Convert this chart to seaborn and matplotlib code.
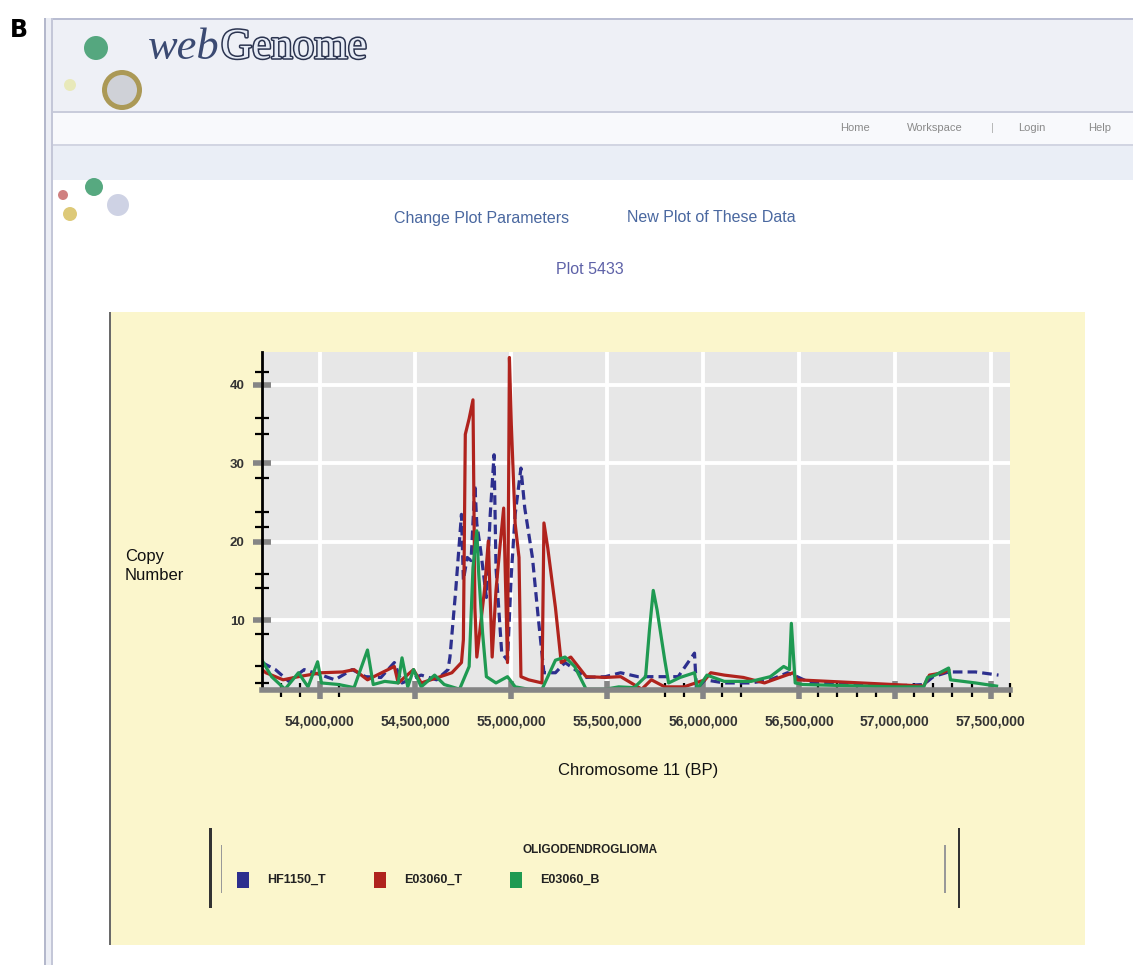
import numpy as np
import pandas as pd
import seaborn as sns
import matplotlib.pyplot as plt
from matplotlib.patches import Rectangle, Ellipse
from matplotlib.ticker import FuncFormatter
import matplotlib.patheffects as pe

# positions in Mb, copy numbers
hf1150_t_pos = [53.70, 53.77, 53.84, 53.92, 54.01, 54.08, 54.17, 54.24, 54.32, 54.39, 54.43,
                54.53, 54.61, 54.67, 54.68, 54.71, 54.74, 54.75, 54.77, 54.79, 54.81, 54.82,
                54.84, 54.87, 54.89, 54.91, 54.92, 54.95, 54.98, 55.00, 55.02, 55.05, 55.07,
                55.11, 55.14, 55.17, 55.23, 55.28, 55.39, 55.49, 55.57, 55.66, 55.87, 55.955,
                55.965, 56.01, 56.11, 56.25, 56.35, 56.44, 56.49, 56.56, 56.99, 57.15, 57.20,
                57.28, 57.42, 57.54]
hf1150_t_cn = [4.6, 3.7, 2.2, 3.7, 3.0, 2.4, 3.7, 2.8, 2.7, 4.6, 2.0,
               3.0, 2.4, 3.7, 5.3, 13.8, 23.5, 15.1, 18.0, 17.6, 27.3, 22.3,
               18.9, 12.9, 23.5, 31.1, 16.7, 5.8, 4.9, 15.9, 23.5, 29.4, 24.3,
               18.0, 10.4, 3.3, 3.3, 4.6, 2.7, 2.8, 3.3, 2.8, 2.8, 5.8,
               1.2, 2.4, 2.0, 2.0, 2.4, 3.3, 2.8, 2.0, 1.6, 1.8, 2.8,
               3.4, 3.4, 3.0]

e03060_t_pos = [53.70, 53.72, 53.81, 53.89, 54.01, 54.12, 54.18, 54.25, 54.39, 54.41, 54.49,
                54.53, 54.63, 54.69, 54.74, 54.75, 54.76, 54.78, 54.80, 54.81, 54.82, 54.86,
                54.88, 54.90, 54.92, 54.94, 54.96, 54.98, 54.99, 55.00, 55.02, 55.04, 55.05,
                55.09, 55.16, 55.17, 55.19, 55.23, 55.26, 55.31, 55.39, 55.49, 55.57, 55.68,
                55.73, 55.80, 55.90, 56.01, 56.04, 56.11, 56.21, 56.32, 56.40, 56.47, 56.49,
                56.99, 57.15, 57.18, 57.25, 57.28]
e03060_t_cn = [3.7, 3.3, 2.4, 2.8, 3.3, 3.4, 3.7, 2.4, 4.1, 2.0, 3.7,
               2.0, 2.8, 3.3, 4.6, 7.5, 33.7, 35.7, 38.1, 11.6, 5.3, 13.8,
               20.1, 5.3, 13.8, 19.2, 24.3, 4.6, 43.5, 34.9, 22.3, 18.0, 2.8,
               2.4, 2.0, 22.4, 19.2, 11.6, 4.6, 5.3, 2.8, 2.7, 2.8, 1.2,
               2.4, 1.5, 1.5, 2.4, 3.3, 3.0, 2.7, 2.0, 2.7, 3.3, 2.4,
               1.8, 1.6, 3.0, 3.3, 3.7]

e03060_b_pos = [53.70, 53.75, 53.82, 53.89, 53.94, 53.99, 54.01, 54.10, 54.18, 54.25, 54.28,
                54.34, 54.41, 54.43, 54.46, 54.49, 54.53, 54.60, 54.65, 54.73, 54.78, 54.80,
                54.82, 54.83, 54.85, 54.87, 54.92, 54.98, 55.02, 55.09, 55.16, 55.23, 55.28,
                55.33, 55.39, 55.49, 55.56, 55.64, 55.70, 55.72, 55.74, 55.76, 55.80, 55.82,
                55.88, 55.955, 55.97, 56.02, 56.11, 56.25, 56.35, 56.42, 56.45, 56.46, 56.48,
                56.52, 56.99, 57.15, 57.17, 57.21, 57.28, 57.29, 57.42, 57.53]
e03060_b_cn = [4.9, 2.8, 1.2, 3.3, 1.5, 4.7, 2.0, 1.8, 1.4, 6.2, 1.8,
               2.2, 2.0, 5.2, 1.5, 3.7, 1.5, 3.0, 1.8, 1.2, 4.1, 16.7,
               21.4, 15.9, 8.4, 2.8, 2.0, 2.8, 1.5, 1.2, 1.2, 4.9, 5.3,
               4.1, 1.2, 1.2, 1.5, 1.4, 2.8, 8.7, 13.8, 11.3, 4.9, 2.0,
               2.7, 3.3, 1.2, 3.0, 2.2, 2.2, 2.8, 4.1, 3.7, 9.6, 2.0,
               1.8, 1.5, 1.5, 2.7, 3.0, 3.9, 2.4, 2.0, 1.6]

series_names = ["HF1150_T", "E03060_T", "E03060_B"]
palette = {"HF1150_T": "#2d2f8e", "E03060_T": "#b0231d", "E03060_B": "#1f9a52"}
line_styles = {"HF1150_T": (0, (3, 1.6)), "E03060_T": "-", "E03060_B": "-"}

major_x = [54.0, 54.5, 55.0, 55.5, 56.0, 56.5, 57.0, 57.5]
minor_x = [53.8, 53.9, 54.0, 54.1, 55.8, 55.9, 56.0, 56.1, 56.2, 56.6, 56.7, 56.8,
           56.9, 57.0, 57.1, 57.2, 57.3, 57.4, 57.6]
major_y = [10, 20, 30, 40]
minor_y = [2.0, 4.1, 8.2, 14.1, 15.9, 21.9, 23.8, 28.1, 33.8, 35.8, 41.6]

frames = []
for name, pos, cn in [("HF1150_T", hf1150_t_pos, hf1150_t_cn),
                      ("E03060_T", e03060_t_pos, e03060_t_cn),
                      ("E03060_B", e03060_b_pos, e03060_b_cn)]:
    frames.append(pd.DataFrame({"bp": np.array(pos) * 1e6, "cn": cn, "sample": name}))
df = pd.concat(frames, ignore_index=True)

W, H = 1133, 965
fig = plt.figure(figsize=(W / 100, H / 100), dpi=100)
fig.patch.set_facecolor("white")
plt.rcParams["font.family"] = ["Liberation Sans", "DejaVu Sans"]


def box(x0, y0, x1, y1, **kw):
    # rectangle given in pixel coords (top-left origin)
    r = Rectangle((x0 / W, 1 - y1 / H), (x1 - x0) / W, (y1 - y0) / H,
                  transform=fig.transFigure, zorder=-1, **kw)
    fig.patches.append(r)


def ftext(x, y, s, **kw):
    fig.text(x / W, 1 - y / H, s, **kw)


# page chrome
box(50, 18, W, 112, facecolor="#eef0f6", edgecolor="none")
box(50, 112, W, 145, facecolor="#f8f9fc", edgecolor="none")
box(50, 145, W, 180, facecolor="#eaeef6", edgecolor="none")
box(45, 18, W, 19.5, facecolor="#b9bdd2", edgecolor="none")
box(50, 111, W, 112.5, facecolor="#c9ccdb", edgecolor="none")
box(50, 144, W, 145.5, facecolor="#d2d5e2", edgecolor="none")
box(44, 18, 46, H, facecolor="#b4b8cc", edgecolor="none")
box(51, 18, 53, H, facecolor="#c4c7d8", edgecolor="none")
box(46, 18, 51, H, facecolor="#eceef5", edgecolor="none")

for cx, cy, r, c in [(96, 48, 12, "#3a9a6a"), (122, 90, 20, "#a08a3a"), (122, 90, 15, "#d6dcef"),
                     (70, 85, 6, "#e8e8b0"), (94, 187, 9, "#3a9a6a"), (63, 195, 5, "#c86a6a"),
                     (70, 214, 7, "#d8c060"), (118, 205, 11, "#c6cbe0")]:
    e = Ellipse((cx / W, 1 - cy / H), 2 * r / W, 2 * r / H, transform=fig.transFigure,
                facecolor=c, edgecolor="none", alpha=0.85, zorder=-0.5)
    fig.patches.append(e)

ftext(10, 30, "B", fontsize=17, fontweight="bold", va="center", family="DejaVu Sans")
ftext(148, 48, "web", fontsize=32, style="italic", color="#3b4a72", va="center",
      family="Liberation Serif")
ftext(221, 48, "Genome", fontsize=31, color="#e6ebf5", va="center", family="Liberation Serif",
      path_effects=[pe.withStroke(linewidth=2.2, foreground="#2b3450")])
ftext(855, 128, "Home", fontsize=8, color="#8a8a8a", ha="center", va="center")
ftext(935, 128, "Workspace", fontsize=8, color="#8a8a8a", ha="center", va="center")
ftext(992, 128, "|", fontsize=8, color="#b0b0b0", ha="center", va="center")
ftext(1032, 128, "Login", fontsize=8, color="#8a8a8a", ha="center", va="center")
ftext(1100, 128, "Help", fontsize=8, color="#8a8a8a", ha="center", va="center")

ftext(482, 218, "Change Plot Parameters", fontsize=11.5, color="#4a68a0", ha="center", va="center")
ftext(711, 218, "New Plot of These Data", fontsize=11.5, color="#4a68a0", ha="center", va="center")
ftext(590, 270, "Plot 5433", fontsize=11.5, color="#5e62a8", ha="center", va="center")

# yellow plot panel
box(110, 312, 1085, 945, facecolor="#fbf6cc", edgecolor="none")
box(109, 312, 111, 945, facecolor="#6a6a6a", edgecolor="none")

# chart
ax = fig.add_axes([262 / W, 1 - 690 / H, (1010 - 262) / W, (690 - 352) / H])
ax.set_zorder(2)
ax.set_facecolor("#e7e7e7")
ax.set_axisbelow(True)
for name in series_names:
    sub = df[df["sample"] == name]
    sns.lineplot(data=sub, x="bp", y="cn", color=palette[name], linestyle=line_styles[name],
                 linewidth=2.3, estimator=None, sort=False, ax=ax, legend=False)

ax.set_xlim(53.70e6, 57.58e6)
ax.set_ylim(1.1, 44.2)
ax.set_xticks([v * 1e6 for v in major_x])
ax.set_xticks([v * 1e6 for v in minor_x], minor=True)
ax.set_yticks(major_y)
ax.set_yticks(minor_y, minor=True)
ax.xaxis.set_major_formatter(FuncFormatter(lambda v, p: f"{v:,.0f}"))
ax.grid(True, which="major", color="white", linewidth=2.8)
ax.tick_params(which="major", direction="inout", length=13, width=4, color="#858585",
               labelcolor="#333333")
ax.tick_params(which="minor", direction="inout", length=10, width=1.6, color="black")
ax.tick_params(axis="x", which="major", pad=11, labelsize=10)
ax.tick_params(axis="y", which="major", pad=6, labelsize=9.5)
for t in ax.get_xticklabels() + ax.get_yticklabels():
    t.set_fontweight("bold")
for s in ["top", "right"]:
    ax.spines[s].set_visible(False)
ax.spines["left"].set_color("black")
ax.spines["left"].set_linewidth(2)
ax.spines["bottom"].set_color("#858585")
ax.spines["bottom"].set_linewidth(4)
ax.set_xlabel("")
ax.set_ylabel("")

ftext(125, 566, "Copy\nNumber", fontsize=12, color="#111111", va="center", ha="left",
      linespacing=1.35)
ftext(638, 770, "Chromosome 11 (BP)", fontsize=12, color="#111111", ha="center", va="center")

# legend
box(209, 828, 211.5, 908, facecolor="#333333", edgecolor="none")
box(221, 845, 222.5, 893, facecolor="#999999", edgecolor="none")
box(944, 845, 945.5, 893, facecolor="#999999", edgecolor="none")
box(958, 828, 960.5, 908, facecolor="#333333", edgecolor="none")
ftext(590, 850, "OLIGODENDROGLIOMA", fontsize=8.5, fontweight="bold", color="#222222",
      ha="center", va="center")
for name, sx in zip(series_names, [237, 374, 510]):
    box(sx, 872, sx + 12, 888, facecolor=palette[name], edgecolor="none")
    ftext(sx + 30, 880, name, fontsize=9, fontweight="bold", color="#222222", va="center")

fig.savefig("out.png", dpi=100, facecolor=fig.get_facecolor())
